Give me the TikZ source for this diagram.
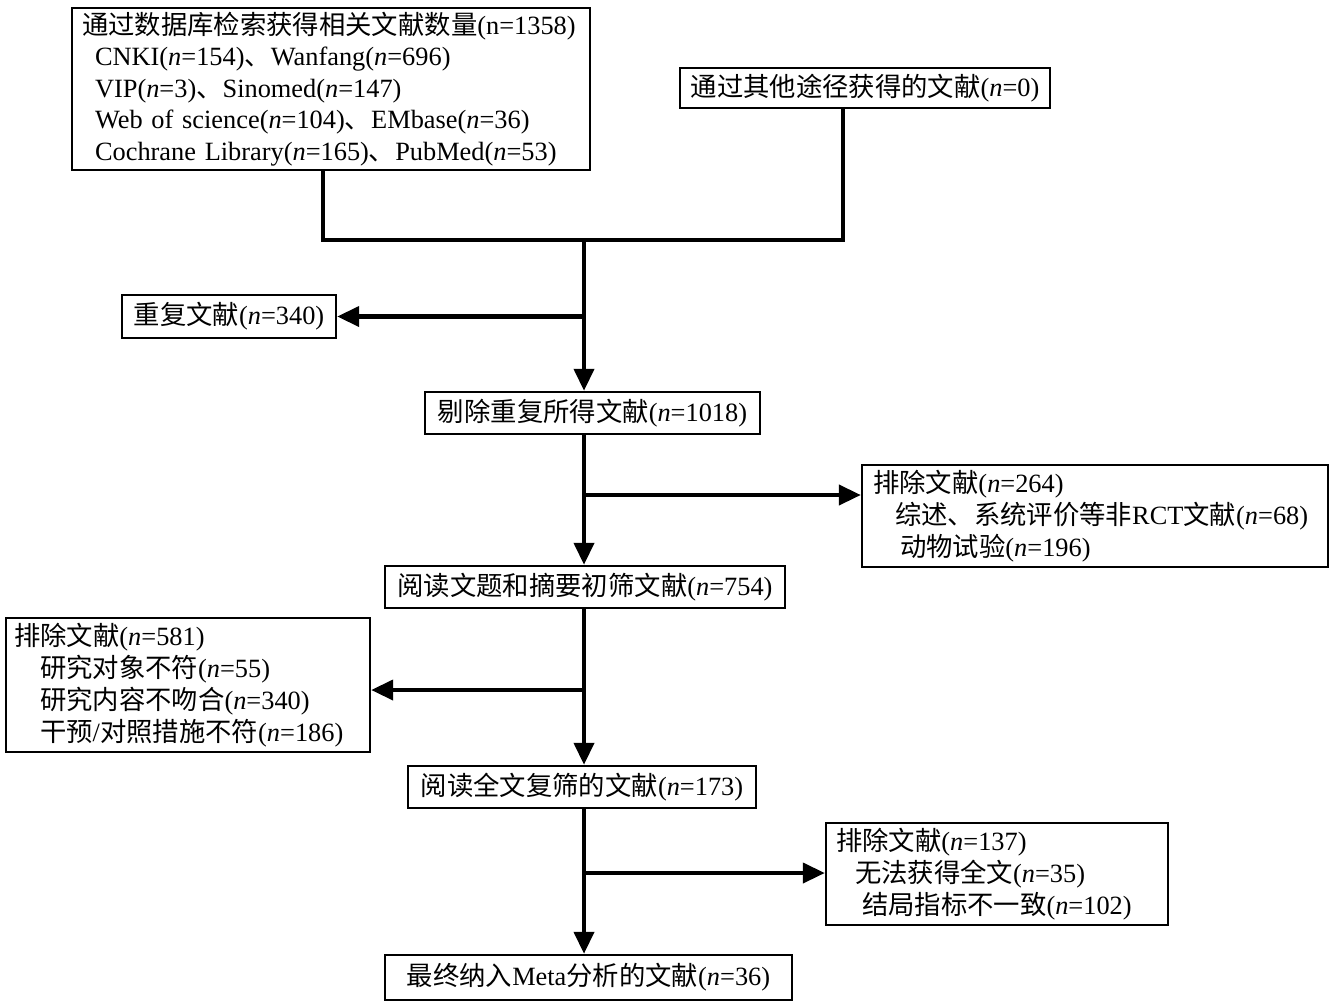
\documentclass[tikz,border=0pt]{standalone}
\usepackage{fontspec}
\setmainfont{Liberation Serif}
\newfontfamily\cjk{Noto Sans CJK SC}
\usetikzlibrary{positioning,calc,arrows.meta}
\newcommand{\zh}[1]{{\cjk #1}}
\newcommand{\nn}{\textit{n}}

\begin{document}
\begin{tikzpicture}[
	x=0.02cm, y=-0.02cm,
	every node/.style={color=black, font=\fontsize{15pt}{18.2pt}\selectfont},
	box/.style={draw, line width=1.4pt, inner ysep=0pt},
	listbox/.style={box, align=left},
	trunk/.style={line width=2.3pt},
	pile/.style={line width=2.3pt, -{Triangle[length=0.44cm,width=0.4cm]}}
	]
	\useasboundingbox (0,0) rectangle (1334,1004);
	% boxes
	\node[listbox, minimum width=10.36cm, minimum height=3.24cm, inner xsep=0.2cm,
		text width=9.96cm, font=\fontsize{15pt}{17.9pt}\selectfont] (db) at (331,89)
	{\zh{通过数据库检索获得相关文献数量}(n=1358)\\
		\hspace*{0.26cm}CNKI(\nn=154)\zh{、}Wanfang(\nn=696)\\
		\hspace*{0.26cm}VIP(\nn=3)\zh{、}Sinomed(\nn=147)\\
		\hspace*{0.26cm}Web of science(\nn=104)\zh{、}EMbase(\nn=36)\\
		\hspace*{0.26cm}Cochrane Library(\nn=165)\zh{、}PubMed(\nn=53)};
	\node[box, minimum width=7.4cm, minimum height=0.8cm] (other) at (865,88)
	{\zh{通过其他途径获得的文献}(\nn=0)};
	\node[box, minimum width=4.28cm, minimum height=0.86cm] (dup) at (229,316.5)
	{\zh{重复文献}(\nn=340)};
	\node[box, minimum width=6.7cm, minimum height=0.84cm] (dedup) at (592.5,413)
	{\zh{剔除重复所得文献}(\nn=1018)};
	\node[listbox, minimum width=9.32cm, minimum height=2.04cm, inner xsep=0.22cm,
		text width=8.88cm] (exA) at (1095,516)
	{\zh{排除文献}(\nn=264)\\
		\hspace*{0.44cm}\zh{综述、系统评价等非}RCT\zh{文献}(\nn=68)\\
		\hspace*{0.54cm}\zh{动物试验}(\nn=196)};
	\node[box, minimum width=8cm, minimum height=0.84cm] (screen) at (585,587)
	{\zh{阅读文题和摘要初筛文献}(\nn=754)};
	\node[listbox, minimum width=7.28cm, minimum height=2.68cm, inner xsep=0.16cm,
		text width=6.96cm] (exB) at (188,685)
	{\zh{排除文献}(\nn=581)\\
		\hspace*{0.52cm}\zh{研究对象不符}(\nn=55)\\
		\hspace*{0.52cm}\zh{研究内容不吻合}(\nn=340)\\
		\hspace*{0.52cm}\zh{干预}/\zh{对照措施不符}(\nn=186)};
	\node[box, minimum width=6.96cm, minimum height=0.84cm] (full) at (582,787)
	{\zh{阅读全文复筛的文献}(\nn=173)};
	\node[listbox, minimum width=6.84cm, minimum height=2.04cm, inner xsep=0.2cm,
		text width=6.44cm] (exC) at (997,874)
	{\zh{排除文献}(\nn=137)\\
		\hspace*{0.38cm}\zh{无法获得全文}(\nn=35)\\
		\hspace*{0.52cm}\zh{结局指标不一致}(\nn=102)};
	\node[box, minimum width=8.14cm, minimum height=0.9cm] (final) at (588.5,977.5)
	{\zh{最终纳入}Meta\zh{分析的文献}(\nn=36)};
	% lines
	\coordinate (merge) at (584,240);
	\coordinate (splitA) at (584,495);
	\coordinate (splitB) at (584,690);
	\coordinate (splitC) at (584,873);
	\draw[trunk] ([xshift=-0.16cm]db.south) |- (merge) -| ([xshift=-0.44cm]other.south);
	\draw[pile] (merge) -- (merge |- dedup.north);
	\draw[pile] (merge |- dup.east) -- (dup.east);
	\draw[pile] (splitA |- dedup.south) -- (splitA |- screen.north);
	\draw[pile] (splitA) -- (splitA -| exA.west);
	\draw[pile] (splitB |- screen.south) -- (splitB |- full.north);
	\draw[pile] (splitB) -- (splitB -| exB.east);
	\draw[pile] (splitC |- full.south) -- (splitC |- final.north);
	\draw[pile] (splitC) -- (splitC -| exC.west);
\end{tikzpicture}
\end{document}
